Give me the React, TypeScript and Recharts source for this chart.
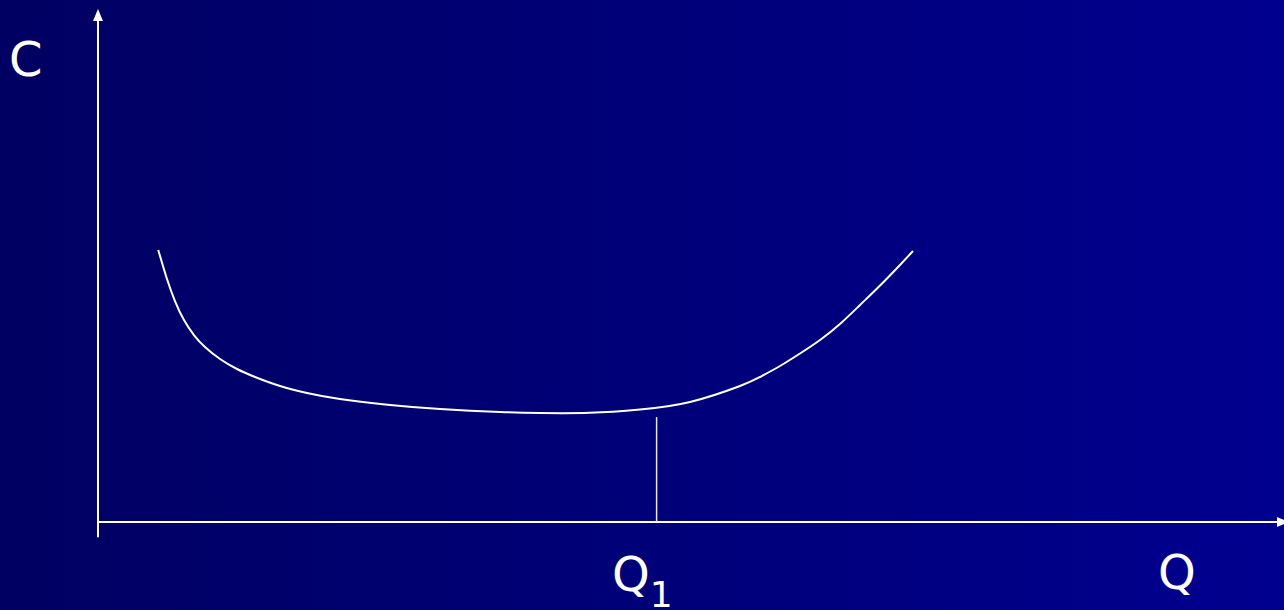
import React from "react";
import { ComposedChart, Line, XAxis, YAxis, ReferenceLine, ReferenceDot } from "recharts";

// average cost curve (Q 0..100, C 0..100)
const curveQ = [5.08, 5.79, 6.49, 7.25, 8.09, 9.02, 10.29, 11.72, 13.24, 15.35, 17.62, 20.4, 24.62, 28.84, 33.9, 37.27, 41.48, 45.7, 49.92, 54.13, 55.82, 57.5, 59.19, 60.88, 62.56, 64.25, 65.94, 67.62, 68.72];
const curveC = [53.13, 47.66, 43.16, 39.45, 36.52, 34.18, 31.84, 29.88, 28.32, 26.56, 25.2, 24.02, 22.85, 22.07, 21.48, 21.29, 21.33, 21.97, 23.44, 26.56, 28.32, 30.47, 32.91, 35.55, 38.67, 42.38, 46.19, 50.2, 52.93];

const q1 = 47.1;
const q1Top = 20.5;

const curveData = curveQ.map((q, i) => ({ q, c: curveC[i] }));

const W = 1284;
const H = 610;
const FONT = "'DejaVu Sans', Verdana, sans-serif";

const UpArrow = (props: any) => {
  const { cx, cy } = props;
  return <polygon points={`${cx},${cy - 1} ${cx - 5},${cy + 11} ${cx + 5},${cy + 11}`} fill="#ffffff" />;
};

const RightArrow = (props: any) => {
  const { cx, cy } = props;
  return <polygon points={`${cx + 5},${cy} ${cx - 7},${cy - 5} ${cx - 7},${cy + 5}`} fill="#ffffff" />;
};

const label: React.CSSProperties = {
  position: "absolute",
  color: "#ffffff",
  fontFamily: FONT,
  fontSize: 48,
  lineHeight: 1,
};

export default function App() {
  return (
    <div
      style={{
        position: "fixed",
        left: 0,
        top: 0,
        width: W,
        height: H,
        overflow: "hidden",
        background: "linear-gradient(to right, #000062, #00008f)",
      }}
    >
      <ComposedChart width={W} height={H} data={curveData} margin={{ top: 10, right: 0, left: 98, bottom: 88 }}>
        <XAxis type="number" dataKey="q" domain={[0, 100]} hide />
        <YAxis type="number" domain={[0, 100]} hide />
        <ReferenceLine
          segment={[{ x: 0, y: -3 }, { x: 0, y: 99 }]}
          stroke="#ffffff"
          strokeWidth={2}
          ifOverflow="visible"
        />
        <ReferenceLine
          segment={[{ x: 0, y: 0 }, { x: 100, y: 0 }]}
          stroke="#ffffff"
          strokeWidth={2}
          ifOverflow="visible"
        />
        <ReferenceLine
          segment={[{ x: q1, y: 0 }, { x: q1, y: q1Top }]}
          stroke="#e4e4ee"
          strokeWidth={1.5}
          ifOverflow="visible"
        />
        <ReferenceDot x={0} y={100} ifOverflow="visible" shape={UpArrow} />
        <ReferenceDot x={100} y={0} ifOverflow="visible" shape={RightArrow} />
        <Line
          type="natural"
          dataKey="c"
          stroke="#ffffff"
          strokeWidth={2}
          dot={false}
          isAnimationActive={false}
        />
      </ComposedChart>
      <div style={{ ...label, left: 9, top: 35 }}>C</div>
      <div style={{ ...label, left: 612, top: 550 }}>
        Q<span style={{ fontSize: 36, position: "relative", top: 16 }}>1</span>
      </div>
      <div style={{ ...label, left: 1158, top: 548 }}>Q</div>
    </div>
  );
}
